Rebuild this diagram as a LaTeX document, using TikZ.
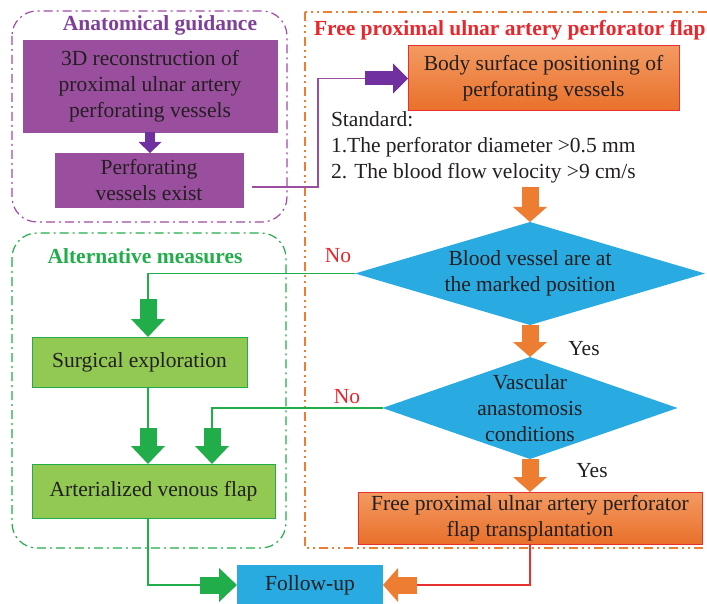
\documentclass[tikz,border=0pt]{standalone}
\usepackage{fontspec}
\setmainfont{Liberation Serif}
\usetikzlibrary{shapes.geometric,arrows.meta,calc}
\definecolor{txtgray}{HTML}{231F20}
\definecolor{purpfill}{HTML}{9A4E9E}
\definecolor{purpdark}{HTML}{7030A0}
\definecolor{purpframe}{HTML}{A04BA6}
\definecolor{purptitle}{HTML}{7F3F98}
\definecolor{orgline}{HTML}{ED7D31}
\definecolor{orgtop}{HTML}{F39A62}
\definecolor{orgbot}{HTML}{E9702A}
\definecolor{redline}{HTML}{E8302F}
\definecolor{redtext}{HTML}{E8262C}
\definecolor{skyblue}{HTML}{29ABE2}
\definecolor{grnfill}{HTML}{92C953}
\definecolor{grnline}{HTML}{22AD4B}
\begin{document}
\begin{tikzpicture}[x=1pt, y=1pt, yscale=-1, inner sep=0pt, outer sep=0pt,
  font=\fontsize{21.5}{26}\selectfont, text=txtgray,
  purplebox/.style={draw=purpfill, fill=purpfill, align=center},
  orangebox/.style={draw=redline, line width=1pt, top color=orgtop, bottom color=orgbot, align=center},
  greenbox/.style={draw=grnline, line width=1pt, fill=grnfill, align=center},
  decision/.style={diamond, fill=skyblue},
  frametitle/.style={font=\fontsize{21.5}{26}\selectfont\bfseries},
  purpleline/.style={draw=purpfill, line width=1.3pt},
  greenconn/.style={draw=grnline, line width=1.3pt},
  redconn/.style={draw=redline, line width=1.3pt},
  purpledown/.style={draw=purpdark, line width=10pt, -{Triangle[width=23pt, length=11pt, line width=0pt]}},
  purpleright/.style={draw=purpdark, line width=14pt, -{Triangle[width=30pt, length=15pt, line width=0pt]}},
  orangeblk/.style={draw=orgline, line width=17pt, -{Triangle[width=34pt, length=15pt, line width=0pt]}},
  greenblk/.style={draw=grnline, line width=17pt, -{Triangle[width=34pt, length=18pt, line width=0pt]}}]
\clip (0,0) rectangle (707,604);
% group frames
\path[draw=purpframe, line width=1.2pt, rounded corners=25pt, dash pattern=on 9pt off 4pt on 2pt off 4pt] (12,11) rectangle (287,222);
\path[draw=orgline, line width=1.2pt, dash pattern=on 9pt off 4pt on 2pt off 4pt on 2pt off 4pt] (305,12) rectangle (745,548);
\path[draw=grnline, line width=1.2pt, rounded corners=25pt, dash pattern=on 9pt off 4pt on 2pt off 4pt] (12,233) rectangle (286,548);
\node[frametitle, text=purptitle] (anattitle) at (160,25) {Anatomical guidance};
\node[frametitle, text=redtext, anchor=base west] (freetitle) at (314,36) {Free proximal ulnar artery perforator flap};
\node[frametitle, text=grnline] (alttitle) at (145,256) {Alternative measures};
% boxes
\node[purplebox, minimum width=254pt, minimum height=92pt] (recon) at (150,86) {3D reconstruction of\\proximal ulnar artery\\perforating vessels};
\node[purplebox, minimum width=188pt, minimum height=54pt] (exist) at (149,180) {Perforating\\vessels exist};
\node[orangebox, minimum width=271pt, minimum height=65pt] (bodypos) at (543.5,78.5) {Body surface positioning of\\perforating vessels};
\node[anchor=west, align=left] (standard) at (331,147) {Standard:\\1.The perforator diameter >0.5 mm\\2. The blood flow velocity >9 cm/s};
\node[decision, minimum width=350pt, minimum height=103pt] (vesselpos) at (530,273.5) {};
\node[align=center] (vesselpostxt) at (vesselpos) {Blood vessel are at\\the marked position};
\node[decision, minimum width=295pt, minimum height=102pt] (anast) at (530,408) {};
\node[align=center] (anasttxt) at (anast) {Vascular\\anastomosis\\conditions};
\node[orangebox, minimum width=344pt, minimum height=52pt] (freeflap) at (530,518) {Free proximal ulnar artery perforator\\flap transplantation};
\node[fill=skyblue, minimum width=146pt, minimum height=40pt] (followup) at (310,585) {Follow-up};
\node[greenbox, minimum width=215pt, minimum height=50pt] (surgexp) at (139.5,362) {Surgical exploration};
\node[greenbox, minimum width=243pt, minimum height=54pt] (arterflap) at (153.5,491) {Arterialized venous flap};
\node[text=redtext] (noa) at (338,256) {No};
\node[text=redtext] (nob) at (347,397) {No};
\node (yesa) at (584,349) {Yes};
\node (yesb) at (592,471) {Yes};
% purple connectors
\coordinate (purpbend) at (365,78.5);
\draw[purpleline] ($(exist.east)+(9,7)$) -| (318,78.5) -- (purpbend);
\draw[purpleright] (purpbend) -- (bodypos.west);
\draw[purpledown] (recon.south) -- (recon.south |- exist.north);
% orange connectors
\coordinate (stdarrow) at (530,187);
\draw[orangeblk] (stdarrow) -- (vesselpos.north);
\draw[orangeblk] (vesselpos.south) -- (anast.north);
\draw[orangeblk] (anast.south) -- (freeflap.north);
\coordinate (redbend) at (417,585);
\draw[redconn] (freeflap.south) |- (redbend);
\draw[orangeblk] (redbend) -- (followup.east);
% green connectors
\coordinate (gtop) at (148,299);
\draw[greenconn] (vesselpos.west) -| (gtop);
\draw[greenblk] (gtop) -- (gtop |- surgexp.north);
\coordinate (gmid) at (148,428);
\draw[greenconn] (gmid |- surgexp.south) -- (gmid);
\draw[greenblk] (gmid) -- (gmid |- arterflap.north);
\coordinate (gright) at (212,428);
\draw[greenconn] (anast.west) -| (gright);
\draw[greenblk] (gright) -- (gright |- arterflap.north);
\coordinate (gbot) at (200,585);
\draw[greenconn] (gmid |- arterflap.south) |- (gbot);
\draw[greenblk] (gbot) -- (followup.west);
\end{tikzpicture}
\end{document}
